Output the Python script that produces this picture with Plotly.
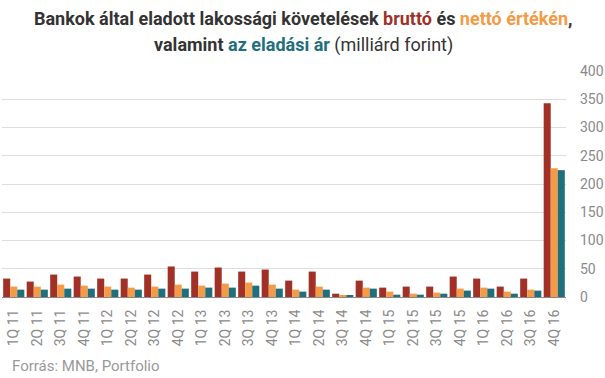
import plotly.graph_objects as go

categories = ["1Q 11","2Q 11","3Q 11","4Q 11","1Q 12","2Q 12","3Q 12","4Q 12",
              "1Q 13","2Q 13","3Q 13","4Q 13","1Q 14","2Q 14","3Q 14","4Q 14",
              "1Q 15","2Q 15","3Q 15","4Q 15","1Q 16","2Q 16","3Q 16","4Q 16"]
brutto = [32.6, 27.3, 39.7, 36.2, 32.6, 32.6, 39.7, 54, 45, 52.2, 45, 48.6,
          29, 45, 5.9, 29, 16.6, 18.4, 18.4, 36.2, 32.6, 18.4, 32.6, 343]
netto = [18.4, 18.4, 21.9, 20.1, 18.4, 16.6, 18.4, 21.9, 20.1, 23.7, 25.5, 21.9,
         13, 18.4, 2.4, 16.6, 9.5, 5.9, 7.7, 14.8, 16.6, 9.5, 13, 228]
ar = [13, 13, 14.8, 14.8, 13, 13, 14.8, 14.8, 16.6, 16.6, 20.1, 14.8,
      9.5, 13, 2.4, 14.8, 4.1, 4.1, 5.9, 11.3, 14.8, 5.9, 11.3, 224.5]
yticks = [0, 50, 100, 150, 200, 250, 300, 350, 400]

RED = "#A13127"
ORANGE = "#F59A45"
TEAL = "#1F6F7D"

fig = go.Figure()
for name, vals, col in [("bruttó", brutto, RED), ("nettó", netto, ORANGE), ("ár", ar, TEAL)]:
    fig.add_trace(go.Bar(x=categories, y=vals, name=name, marker=dict(color=col, line=dict(width=0))))

title_l1 = ("<b>Bankok által eladott lakossági követelések "
            f"<span style='color:{RED}'>bruttó</span> és "
            f"<span style='color:{ORANGE}'>nettó értékén</span>,</b>")
title_l2 = (f"<b>valamint <span style='color:{TEAL}'>az eladási ár</span></b> (milliárd forint)")

fig.update_layout(
    width=605, height=378,
    margin=dict(l=2, r=39, t=71, b=81, autoexpand=False),
    paper_bgcolor="white", plot_bgcolor="white",
    barmode="group", bargap=0.1, bargroupgap=0,
    showlegend=False,
    font=dict(family="Roboto", color="#8a8a8a"),
    xaxis=dict(tickangle=-90, tickfont=dict(size=14, color="#8a8a8a"),
               showgrid=False, showline=True, linecolor="#888888", linewidth=1,
               ticks="", fixedrange=True, automargin=False, ticklabelstandoff=6),
    yaxis=dict(side="right", range=[0, 400], tickvals=yticks,
               tickfont=dict(size=14, color="#8a8a8a"),
               showgrid=True, gridcolor="#dddddd", gridwidth=1,
               zeroline=False, showline=False, ticks="", ticklabelstandoff=13,
               automargin=False, fixedrange=True),
    annotations=[
        dict(text=title_l1, xref="paper", yref="paper", x=0.535, y=1, xanchor="center",
             yanchor="bottom", yshift=40, showarrow=False,
             font=dict(family="Roboto", size=18, color="#333333")),
        dict(text=title_l2, xref="paper", yref="paper", x=0.535, y=1, xanchor="center",
             yanchor="bottom", yshift=13, showarrow=False,
             font=dict(family="Roboto", size=18, color="#333333")),
        dict(text="Forrás: MNB, Portfolio", xref="paper", yref="paper",
             x=0, y=0, xanchor="left", yanchor="bottom",
             xshift=8, yshift=-80, showarrow=False,
             font=dict(size=15, color="#999999"))],
)

fig.write_html("out.html", config={"displayModeBar": False},
               post_script="document.body.style.margin='0';")
